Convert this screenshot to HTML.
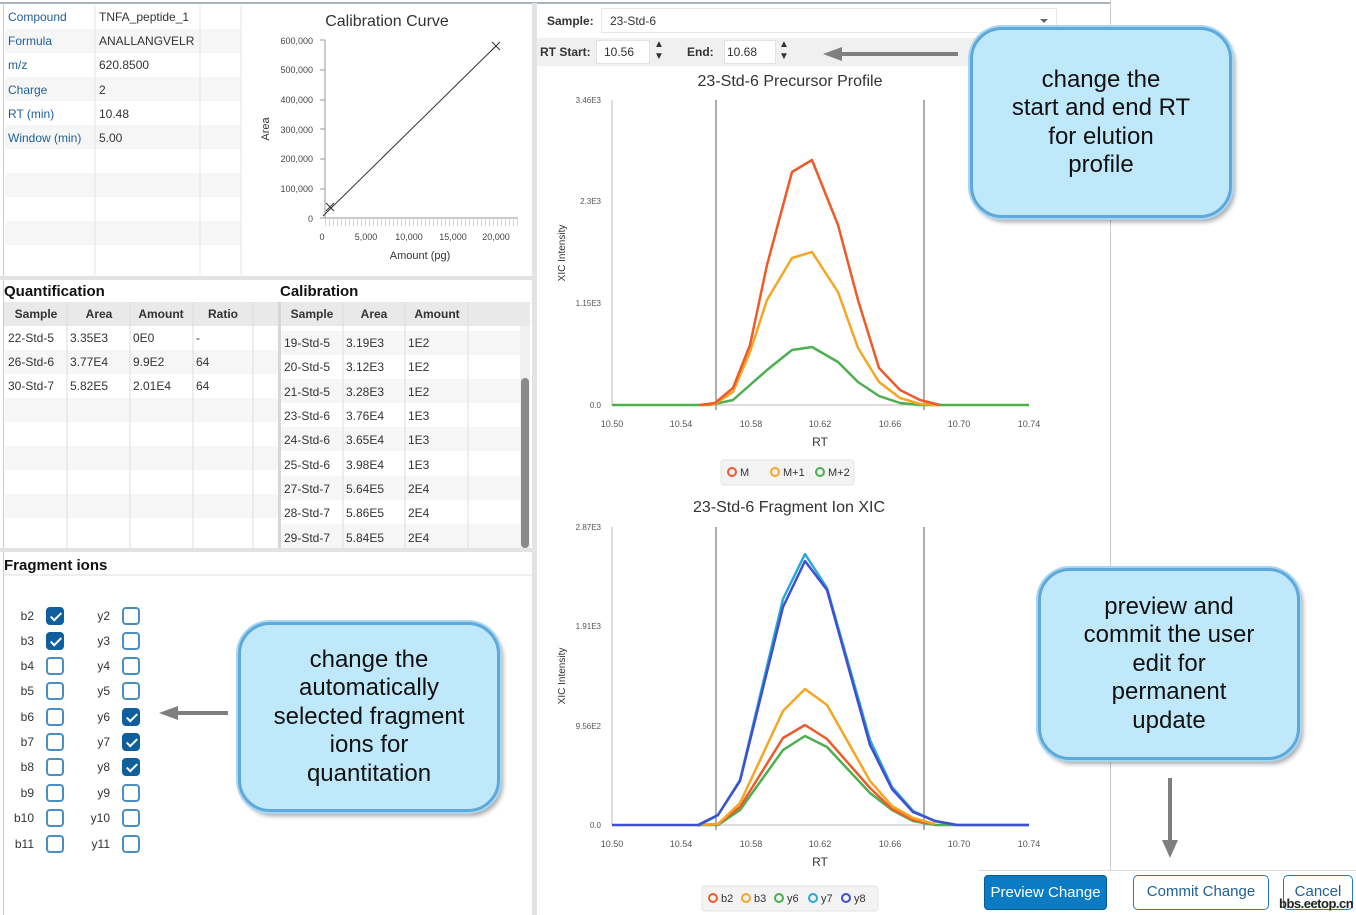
<!DOCTYPE html>
<html><head><meta charset="utf-8"><style>
*{margin:0;padding:0;box-sizing:border-box}
body{width:1356px;height:915px;background:#fff;position:relative;overflow:hidden;font-family:"Liberation Sans",sans-serif;color:#333}
.a{position:absolute}
.t{font-size:12px;white-space:nowrap}
.call{position:absolute;background:#bfe9fb;border:3px solid #5ea9da;border-radius:32px;box-shadow:0 0 0 2px #a6d6f2,3px 4px 5px rgba(0,0,0,.35);display:flex;align-items:center;justify-content:center;text-align:center;font-size:24px;line-height:28.5px;color:#111}
.cb{position:absolute;width:18px;height:18px;border:2px solid #4a8fc1;border-radius:4px;background:#fff}
.cb.on{background:#0d5f9e;border-color:#0d5f9e}
.cb.on:after{content:"";position:absolute;left:5px;top:1px;width:4px;height:9px;border:solid #fff;border-width:0 2px 2px 0;transform:rotate(45deg)}
.lb{position:absolute;font-size:12px;text-align:right;width:30px;color:#333}
</style></head><body>
<div class="a" style="left:0;top:2px;width:1110px;height:2px;background:#a9b3bd"></div>
<div class="a" style="left:1110px;top:0;width:1px;height:870px;background:#ccc"></div>
<div class="a" style="left:532px;top:3px;width:5px;height:912px;background:#e3e3e3"></div>
<div class="a" style="left:3px;top:3px;width:1px;height:912px;background:#ccc"></div>

<svg class="a" style="left:0;top:0" width="532" height="915">
<g fill="#f6f6f6"><rect x="5" y="29" width="236" height="24"/><rect x="5" y="77" width="236" height="24"/><rect x="5" y="125" width="236" height="24"/><rect x="5" y="173" width="236" height="24"/><rect x="5" y="221" width="236" height="24"/></g>
<g stroke="#e6e6e6"><line x1="95" y1="5" x2="95" y2="275"/><line x1="200" y1="5" x2="200" y2="275"/><line x1="241" y1="5" x2="241" y2="275"/></g>
<rect x="0" y="276" width="532" height="4" fill="#e3e3e3"/>
<g font-size="12" fill="#1f5f9a"><text x="8" y="21">Compound</text><text x="8" y="45">Formula</text><text x="8" y="69">m/z</text><text x="8" y="94">Charge</text><text x="8" y="118">RT (min)</text><text x="8" y="142">Window (min)</text></g>
<g font-size="12" fill="#333"><text x="99" y="21">TNFA_peptide_1</text><text x="99" y="45">ANALLANGVELR</text><text x="99" y="69">620.8500</text><text x="99" y="94">2</text><text x="99" y="118">10.48</text><text x="99" y="142">5.00</text></g>
<text x="387" y="26" font-size="16" text-anchor="middle" fill="#333">Calibration Curve</text>
<line x1="325" y1="40" x2="325" y2="218" stroke="#999"/><line x1="325" y1="218" x2="518" y2="218" stroke="#999"/>
<g font-size="9" fill="#444" text-anchor="end"><text x="313" y="44">600,000</text><text x="313" y="73">500,000</text><text x="313" y="103">400,000</text><text x="313" y="133">300,000</text><text x="313" y="162">200,000</text><text x="313" y="192">100,000</text><text x="313" y="222">0</text></g>
<g stroke="#999"><line x1="320" y1="40" x2="325" y2="40"/><line x1="320" y1="70" x2="325" y2="70"/><line x1="320" y1="100" x2="325" y2="100"/><line x1="320" y1="129" x2="325" y2="129"/><line x1="320" y1="159" x2="325" y2="159"/><line x1="320" y1="189" x2="325" y2="189"/><line x1="320" y1="218" x2="325" y2="218"/></g>
<path d="M325 218h193" stroke="#bbb" stroke-dasharray="1 3" stroke-width="8" transform="translate(0,4)" opacity=".6"/>
<g font-size="9" fill="#444" text-anchor="middle"><text x="322" y="240">0</text><text x="366" y="240">5,000</text><text x="409" y="240">10,000</text><text x="453" y="240">15,000</text><text x="496" y="240">20,000</text></g>
<text x="420" y="259" font-size="11" text-anchor="middle" fill="#333">Amount (pg)</text>
<text transform="translate(269,129) rotate(-90)" font-size="11" text-anchor="middle" fill="#333">Area</text>
<line x1="323" y1="216" x2="496" y2="46" stroke="#333"/>
<g stroke="#333"><path d="M326 203l8 8M334 203l-8 8M492 42l8 8M500 42l-8 8"/></g>

<text x="4" y="296" font-size="15" font-weight="bold" fill="#111">Quantification</text>
<text x="280" y="296" font-size="15" font-weight="bold" fill="#111">Calibration</text>
<rect x="4" y="302" width="274" height="24" fill="#e9e9e9"/>
<rect x="280" y="302" width="250" height="24" fill="#e9e9e9"/>
<g fill="#f6f6f6"><rect x="5" y="350" width="273" height="24"/><rect x="5" y="398" width="273" height="24"/><rect x="5" y="446" width="273" height="24"/><rect x="5" y="494" width="273" height="24"/>
<rect x="281" y="331" width="239" height="24"/><rect x="281" y="379" width="239" height="24"/><rect x="281" y="427" width="239" height="24"/><rect x="281" y="476" width="239" height="24"/><rect x="281" y="524" width="239" height="24"/></g>
<g stroke="#ddd"><path d="M67 302V548M130 302V548M193 302V548M253 302V548M343 302V548M405 302V548M468 302V548"/></g>
<rect x="278" y="302" width="3" height="248" fill="#d6d6d6"/>
<rect x="520" y="326" width="10" height="224" fill="#f0f0f0"/><rect x="521" y="378" width="8" height="170" rx="4" fill="#8a8a8a"/>
<rect x="0" y="548" width="532" height="4" fill="#e3e3e3"/>
<g font-size="12" font-weight="bold" fill="#333" text-anchor="middle"><text x="36" y="318">Sample</text><text x="99" y="318">Area</text><text x="161" y="318">Amount</text><text x="223" y="318">Ratio</text><text x="312" y="318">Sample</text><text x="374" y="318">Area</text><text x="437" y="318">Amount</text></g>
<g font-size="12" fill="#333"><text x="8" y="342">22-Std-5</text><text x="70" y="342">3.35E3</text><text x="133" y="342">0E0</text><text x="196" y="342">-</text>
<text x="8" y="366">26-Std-6</text><text x="70" y="366">3.77E4</text><text x="133" y="366">9.9E2</text><text x="196" y="366">64</text>
<text x="8" y="390">30-Std-7</text><text x="70" y="390">5.82E5</text><text x="133" y="390">2.01E4</text><text x="196" y="390">64</text></g>
<g font-size="12" fill="#333"><text x="284" y="347">19-Std-5</text><text x="346" y="347">3.19E3</text><text x="408" y="347">1E2</text>
<text x="284" y="371">20-Std-5</text><text x="346" y="371">3.12E3</text><text x="408" y="371">1E2</text>
<text x="284" y="396">21-Std-5</text><text x="346" y="396">3.28E3</text><text x="408" y="396">1E2</text>
<text x="284" y="420">23-Std-6</text><text x="346" y="420">3.76E4</text><text x="408" y="420">1E3</text>
<text x="284" y="444">24-Std-6</text><text x="346" y="444">3.65E4</text><text x="408" y="444">1E3</text>
<text x="284" y="469">25-Std-6</text><text x="346" y="469">3.98E4</text><text x="408" y="469">1E3</text>
<text x="284" y="493">27-Std-7</text><text x="346" y="493">5.64E5</text><text x="408" y="493">2E4</text>
<text x="284" y="517">28-Std-7</text><text x="346" y="517">5.86E5</text><text x="408" y="517">2E4</text>
<text x="284" y="542">29-Std-7</text><text x="346" y="542">5.84E5</text><text x="408" y="542">2E4</text></g>
<text x="4" y="570" font-size="15" font-weight="bold" fill="#111">Fragment ions</text>
<line x1="4" y1="575" x2="532" y2="575" stroke="#ddd"/>
</svg>

<div class="lb" style="left:4px;top:609px">b2</div><div class="cb on" style="left:46px;top:607px"></div><div class="lb" style="left:80px;top:609px">y2</div><div class="cb" style="left:122px;top:607px"></div>
<div class="lb" style="left:4px;top:634px">b3</div><div class="cb on" style="left:46px;top:632px"></div><div class="lb" style="left:80px;top:634px">y3</div><div class="cb" style="left:122px;top:632px"></div>
<div class="lb" style="left:4px;top:659px">b4</div><div class="cb" style="left:46px;top:657px"></div><div class="lb" style="left:80px;top:659px">y4</div><div class="cb" style="left:122px;top:657px"></div>
<div class="lb" style="left:4px;top:684px">b5</div><div class="cb" style="left:46px;top:682px"></div><div class="lb" style="left:80px;top:684px">y5</div><div class="cb" style="left:122px;top:682px"></div>
<div class="lb" style="left:4px;top:710px">b6</div><div class="cb" style="left:46px;top:708px"></div><div class="lb" style="left:80px;top:710px">y6</div><div class="cb on" style="left:122px;top:708px"></div>
<div class="lb" style="left:4px;top:735px">b7</div><div class="cb" style="left:46px;top:733px"></div><div class="lb" style="left:80px;top:735px">y7</div><div class="cb on" style="left:122px;top:733px"></div>
<div class="lb" style="left:4px;top:760px">b8</div><div class="cb" style="left:46px;top:758px"></div><div class="lb" style="left:80px;top:760px">y8</div><div class="cb on" style="left:122px;top:758px"></div>
<div class="lb" style="left:4px;top:786px">b9</div><div class="cb" style="left:46px;top:784px"></div><div class="lb" style="left:80px;top:786px">y9</div><div class="cb" style="left:122px;top:784px"></div>
<div class="lb" style="left:4px;top:811px">b10</div><div class="cb" style="left:46px;top:809px"></div><div class="lb" style="left:80px;top:811px">y10</div><div class="cb" style="left:122px;top:809px"></div>
<div class="lb" style="left:4px;top:837px">b11</div><div class="cb" style="left:46px;top:835px"></div><div class="lb" style="left:80px;top:837px">y11</div><div class="cb" style="left:122px;top:835px"></div>

<div class="a" style="left:537px;top:38px;width:573px;height:28px;background:#f0f0f0"></div>
<div class="a t" style="left:547px;top:14px;font-weight:bold">Sample:</div>
<div class="a" style="left:601px;top:8px;width:456px;height:25px;border:1px solid #e6e6e6;background:#fff"></div>
<div class="a t" style="left:610px;top:14px">23-Std-6</div>
<div class="a" style="left:1040px;top:19px;border:4px solid transparent;border-top-color:#666"></div>
<div class="a t" style="left:540px;top:45px;font-weight:bold">RT Start:</div>
<div class="a" style="left:596px;top:40px;width:54px;height:24px;background:#fff;border:1px solid #e3e3e3"></div>
<div class="a t" style="left:604px;top:45px">10.56</div>
<div class="a t" style="left:654px;top:39px;font-size:10px;line-height:12px">▲<br>▼</div>
<div class="a t" style="left:687px;top:45px;font-weight:bold">End:</div>
<div class="a" style="left:724px;top:40px;width:52px;height:24px;background:#fff;border:1px solid #e3e3e3"></div>
<div class="a t" style="left:727px;top:45px">10.68</div>
<div class="a t" style="left:779px;top:39px;font-size:10px;line-height:12px">▲<br>▼</div>

<svg class="a" style="left:537px;top:0" width="573" height="915">
<g transform="translate(-537,0)">
<text x="790" y="86" font-size="16" text-anchor="middle" fill="#333">23-Std-6 Precursor Profile</text>
<line x1="612" y1="100" x2="612" y2="405" stroke="#bbb"/>
<line x1="612" y1="405" x2="1029" y2="405" stroke="#bbb"/>
<g font-size="8" fill="#555" text-anchor="end"><text x="601" y="103">3.46E3</text><text x="601" y="204">2.3E3</text><text x="601" y="306">1.15E3</text><text x="601" y="408">0.0</text></g>
<text transform="translate(565,253) rotate(-90)" font-size="10" text-anchor="middle" fill="#333">XIC Intensity</text>
<g font-size="9" fill="#555" text-anchor="middle"><text x="612" y="427">10.50</text><text x="681" y="427">10.54</text><text x="751" y="427">10.58</text><text x="820" y="427">10.62</text><text x="890" y="427">10.66</text><text x="959" y="427">10.70</text><text x="1029" y="427">10.74</text></g>
<text x="820" y="446" font-size="12" text-anchor="middle" fill="#333">RT</text>
<g stroke="#777" stroke-width="1.2"><line x1="716" y1="100" x2="716" y2="410"/><line x1="924" y1="100" x2="924" y2="410"/></g>
<g fill="none" stroke-width="2.5" stroke-linejoin="round">
<polyline stroke="#4caf50" points="612,405 710,405 733,400 750,385 767,370 792,350 812,347 838,362 858,382 879,396 900,403 920,405 1029,405"/>
<polyline stroke="#f5a623" points="700,405 715,404 733,392 750,352 767,300 792,258 812,252 838,292 858,348 879,382 900,398 920,404 940,405"/>
<polyline stroke="#ef5a2a" points="700,405 715,403 733,388 750,345 767,265 792,172 812,160 838,225 858,300 879,368 900,390 920,400 940,405"/>
</g>
<rect x="721" y="460" width="133" height="25" rx="3" fill="#f3f3f3" stroke="#e3e3e3"/>
<g fill="none" stroke-width="2"><circle cx="732" cy="472" r="4" stroke="#ef5a2a"/><circle cx="775" cy="472" r="4" stroke="#f5a623"/><circle cx="820" cy="472" r="4" stroke="#4caf50"/></g>
<g font-size="11" fill="#333"><text x="740" y="476">M</text><text x="783" y="476">M+1</text><text x="828" y="476">M+2</text></g>

<text x="789" y="512" font-size="16" text-anchor="middle" fill="#333">23-Std-6 Fragment Ion XIC</text>
<line x1="612" y1="527" x2="612" y2="825" stroke="#bbb"/>
<line x1="612" y1="825" x2="1029" y2="825" stroke="#bbb"/>
<g font-size="8" fill="#555" text-anchor="end"><text x="601" y="530">2.87E3</text><text x="601" y="629">1.91E3</text><text x="601" y="729">9.56E2</text><text x="601" y="828">0.0</text></g>
<text transform="translate(565,676) rotate(-90)" font-size="10" text-anchor="middle" fill="#333">XIC Intensity</text>
<g font-size="9" fill="#555" text-anchor="middle"><text x="612" y="847">10.50</text><text x="681" y="847">10.54</text><text x="751" y="847">10.58</text><text x="820" y="847">10.62</text><text x="890" y="847">10.66</text><text x="959" y="847">10.70</text><text x="1029" y="847">10.74</text></g>
<text x="820" y="866" font-size="12" text-anchor="middle" fill="#333">RT</text>
<g stroke="#777" stroke-width="1.2"><line x1="716" y1="527" x2="716" y2="830"/><line x1="924" y1="527" x2="924" y2="830"/></g>
<g fill="none" stroke-width="2.5" stroke-linejoin="round">
<polyline stroke="#4caf50" points="700,825 718,825 740,810 783,750 805,736 827,747 870,793 892,810 913,821 935,825 1029,825"/>
<polyline stroke="#ef5a2a" points="700,825 718,824 740,807 783,738 805,725 827,739 870,788 892,809 913,820 935,824"/>
<polyline stroke="#f5a623" points="700,825 718,824 740,803 783,711 805,689 827,705 870,781 892,806 913,818 935,824"/>
<polyline stroke="#29a9d6" points="698,826 718,815 740,780 783,599 805,554 827,588 870,740 892,787 913,811 935,821 957,825"/>
<polyline stroke="#3f4fcf" points="612,825 698,825 718,815 740,781 783,607 805,561 827,590 870,745 892,789 913,812 935,821 957,825 1029,825"/>
</g>
<rect x="702" y="886" width="176" height="25" rx="3" fill="#f3f3f3" stroke="#e3e3e3"/>
<g fill="none" stroke-width="2"><circle cx="713" cy="898" r="4" stroke="#ef5a2a"/><circle cx="746" cy="898" r="4" stroke="#f5a623"/><circle cx="779" cy="898" r="4" stroke="#4caf50"/><circle cx="813" cy="898" r="4" stroke="#29a9d6"/><circle cx="846" cy="898" r="4" stroke="#3f4fcf"/></g>
<g font-size="11" fill="#333"><text x="721" y="902">b2</text><text x="754" y="902">b3</text><text x="787" y="902">y6</text><text x="821" y="902">y7</text><text x="854" y="902">y8</text></g>
</g></svg>

<div class="a" style="left:979px;top:870px;width:377px;height:1px;background:#ddd"></div>
<div class="a" style="left:984px;top:875px;width:123px;height:35px;background:#0b7cc3;border:1px solid #075c96;border-radius:4px;color:#fff;font-size:15px;text-align:center;line-height:33px">Preview Change</div>
<div class="a" style="left:1133px;top:875px;width:136px;height:35px;background:#fff;border:1.5px solid #2a79b8;border-radius:5px;color:#1f5f9a;font-size:15px;text-align:center;line-height:32px">Commit Change</div>
<div class="a" style="left:1283px;top:875px;width:70px;height:35px;background:#fff;border:1.5px solid #2a79b8;border-radius:5px;color:#1f5f9a;font-size:15px;text-align:center;line-height:32px">Cancel</div>
<div class="a" style="left:1279px;top:896px;font-size:13px;font-weight:bold;color:#222;letter-spacing:-0.5px">bbs.eetop.cn</div>

<svg class="a" style="left:0;top:0" width="1356" height="915">
<g fill="#7f7f7f"><rect x="838" y="52" width="120" height="4"/><polygon points="823,54 842,47 842,61"/>
<rect x="175" y="711" width="53" height="4"/><polygon points="159,713 178,706 178,720"/>
<rect x="1168" y="778" width="4" height="64"/><polygon points="1170,858 1162,840 1178,840"/></g>
</svg>

<div class="call" style="left:970px;top:27px;width:262px;height:191px">change the<br>start and end RT<br>for elution<br>profile</div>
<div class="call" style="left:238px;top:622px;width:262px;height:190px">change the<br>automatically<br>selected fragment<br>ions for<br>quantitation</div>
<div class="call" style="left:1038px;top:568px;width:262px;height:192px">preview and<br>commit the user<br>edit for<br>permanent<br>update</div>
</body></html>
